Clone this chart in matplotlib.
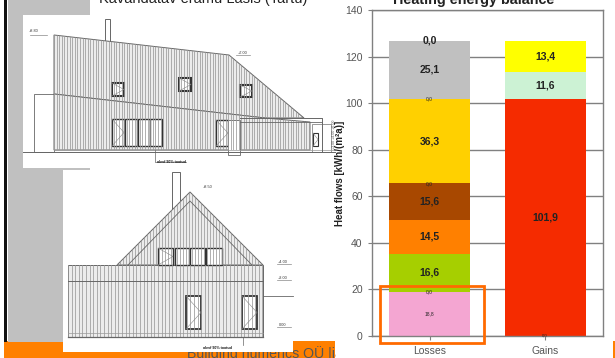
#!/usr/bin/env python3
# Heating energy balance chart on a slide with two house elevations
import numpy as np
import matplotlib
matplotlib.use('Agg')
import matplotlib.pyplot as plt
from matplotlib.patches import Rectangle, Polygon

plt.rcParams['font.family'] = ['Liberation Sans', 'DejaVu Sans']

W, H = 615, 358

############################## Data ##################################
categories = ['Losses', 'Gains']
loss_values = [18.8, 0.0, 16.6, 14.5, 15.6, 0.0, 36.3, 0.0, 25.1, 0.0]
loss_labels = ['18,8', '0,0', '16,6', '14,5', '15,6', '0,0', '36,3', '0,0', '25,1', '0,0']
loss_colors = ['#f4a6d2', '#f4a6d2', '#a6cf00', '#ff8000', '#a84800', '#a84800',
               '#ffd000', '#ffd000', '#c0c0c0', '#c0c0c0']
loss_sizes = [3.5, 3.5, 7.5, 7.5, 7.5, 3.5, 7.5, 3.5, 7.5, 7.5]
gain_values = [0.0, 101.9, 11.6, 13.4]
gain_labels = ['0,0', '101,9', '11,6', '13,4']
gain_colors = ['#f52b00', '#f52b00', '#ccf2d4', '#ffff00']
gain_sizes = [3, 7.5, 7.5, 7.5]
y_ticks = [0, 20, 40, 60, 80, 100, 120, 140]


def px_rect(x0, y0, x1, y1, **kw):
    kw.setdefault('facecolor', 'none')
    kw.setdefault('edgecolor', 'none')
    bg.add_patch(Rectangle((x0, y0), x1 - x0, y1 - y0, **kw))


def hatch(poly, step=2.6, color='#9a9a9a', lw=0.55):
    """Vertical cladding lines clipped to a polygon"""
    patch = Polygon(poly, closed=True, facecolor='#ececec', edgecolor='#666666', lw=0.7)
    bg.add_patch(patch)
    xs = [p[0] for p in poly]
    ys = [p[1] for p in poly]
    for x in np.arange(min(xs), max(xs), step):
        line, = bg.plot([x, x], [min(ys), max(ys)], color=color, lw=lw)
        line.set_clip_path(patch)


def window(x0, y0, x1, y1, lw=1.0, cross=True):
    px_rect(x0, y0, x1, y1, facecolor='white', edgecolor='#333333', lw=lw)
    if cross:
        bg.plot([x0, x1, x0], [y0, (y0 + y1) / 2, y1], color='#888888', lw=0.4)


fig = plt.figure(figsize=(W / 100, H / 100), dpi=100, facecolor='white')

########################### Slide background ###########################
bg = fig.add_axes([0, 0, 1, 1])
bg.set_xlim(0, W)
bg.set_ylim(H, 0)
bg.axis('off')

px_rect(8, 0, 90, 170, facecolor='#c0c0c0')
px_rect(8, 170, 63, 342, facecolor='#c0c0c0')
px_rect(4, 0, 7, 342, facecolor='#111111')
px_rect(4, 341, 335, H, facecolor='#ff8000', zorder=0.1)
px_rect(613, 341, W, H, facecolor='#ff8000')

# footer text sits under the pasted drawing, only its lower edge shows
bg.text(187, 353.5, 'Building numerics OÜ |ja', fontsize=10.2, color='#555555',
        ha='left', va='center', zorder=0.5)
px_rect(336, 341, 613, H, facecolor='white')

px_rect(23, 15, 90, 168, facecolor='white')
px_rect(63, 170, 293, 352, facecolor='white')
px_rect(63, 168, 90, 170, facecolor='#c0c0c0')

bg.text(99, 3.5, 'Kavandatav eramu Läsis (Tartu)', fontsize=10.5, color='#222222',
        ha='left', va='baseline')

########################### Side elevation ###########################
px_rect(105, 19, 110, 41, facecolor='white', edgecolor='#666666', lw=0.7)
px_rect(34, 94, 54, 152, facecolor='white', edgecolor='#666666', lw=0.6)
hatch([(54, 35), (229, 55), (304, 118), (265, 118), (54, 94)])
hatch([(54, 94), (265, 118), (310, 122), (310, 150), (54, 150)])
bg.plot([23, 335], [152, 152], color='#666666', lw=0.7)
bg.plot([54, 335], [150, 150], color='#999999', lw=0.5)
bg.plot([240, 322, 322], [118, 118, 152], color='#666666', lw=0.7)
bg.plot([240, 322], [122, 122], color='#666666', lw=0.6)
window(112, 83, 124, 96, lw=1.5)
window(179, 78, 191, 91, lw=1.5)
window(240, 85, 252, 97, lw=1.5)
window(112, 119, 124, 146)
window(125, 119, 137, 146, cross=False)
window(138, 119, 150, 146, cross=False)
window(150, 119, 162, 146, cross=False)
window(216, 120, 228, 146)
px_rect(228, 120, 240, 155, facecolor='white', edgecolor='#666666', lw=0.6)
px_rect(312, 124, 331, 152, facecolor='white', edgecolor='#888888', lw=0.6)
window(313, 133, 318, 146, lw=0.8)
bg.plot([30, 47], [35, 35], color='#888888', lw=0.5)
bg.plot([236, 250], [55, 55], color='#888888', lw=0.5)
bg.plot([155, 155, 186], [150, 162, 162], color='#666666', lw=0.5)
bg.text(34, 31.5, '+8.80', fontsize=2.8, color='#333333', ha='center', va='center')
bg.text(243, 52.5, '+7.00', fontsize=2.8, color='#333333', ha='center', va='center')
bg.text(171, 162, 'olevf 90% tootud', fontsize=2.6, color='#111111', fontweight='bold',
        ha='center', va='center')
bg.text(334, 134, '+3.00 +4.00 +6.00', fontsize=2.6, color='#555555', rotation=90,
        ha='center', va='center')

########################### Gable elevation ###########################
px_rect(172, 172, 180, 210, facecolor='white', edgecolor='#666666', lw=0.7)
hatch([(190, 192), (263, 265), (117, 265)], step=3.0)
bg.plot([128, 190, 252], [265, 201, 265], color='#666666', lw=0.6)
hatch([(68, 265), (263, 265), (263, 337), (68, 337)], step=3.6)
bg.plot([68, 263], [281, 281], color='#666666', lw=0.7)
bg.plot([68, 263], [337, 337], color='#666666', lw=0.9)
bg.plot([68, 263], [333, 333], color='#999999', lw=0.5)
window(158, 248, 173, 265)
window(175, 248, 189, 265, cross=False)
window(190, 248, 205, 265, cross=False)
window(206, 248, 222, 265, cross=False)
window(186, 296, 201, 329, lw=1.3)
window(242, 296, 257, 329, lw=1.3)
bg.plot([263, 293], [296, 296], color='#666666', lw=0.6)
bg.plot([243, 243], [337, 345], color='#666666', lw=0.5)
for y, s in [(262, '+4.00'), (278, '+3.00'), (325, '0.00')]:
    bg.plot([277, 291], [y + 2, y + 2], color='#888888', lw=0.5)
    bg.text(283, y, s, fontsize=2.8, color='#333333', ha='center', va='center')
bg.text(208, 187, '+8.50', fontsize=2.8, color='#333333', ha='center', va='center')
bg.text(217, 348, 'olevf 90% tootud', fontsize=2.6, color='#111111', fontweight='bold',
        ha='center', va='center', zorder=5)

########################### Chart ###########################
ax = fig.add_axes([371.7 / W, 1 - 336 / H, 231.3 / W, 326 / H], facecolor='white')
ax.set_xlim(-0.5, 1.5)
ax.set_ylim(0, 140)
ax.set_axisbelow(True)
ax.grid(axis='y', color='#808080', lw=1.0)
for side in ax.spines.values():
    side.set_color('#808080')
    side.set_linewidth(1.0)
ax.tick_params(axis='y', color='#808080', labelcolor='#555555', labelsize=7.5, length=3, pad=3.5)
ax.tick_params(axis='x', color='#808080', labelcolor='#555555', labelsize=7.5, length=3, pad=4)
ax.set_yticks(y_ticks)
ax.set_xticks([0, 1], categories)
ax.set_ylabel('Heat flows [kWh/(m²a)]', fontsize=7, fontweight='bold', color='#222222', labelpad=0)
ax.set_title('Heating energy balance', fontsize=10.4, fontweight='bold', color='#222222',
             x=0.442, pad=4)

bar_w = 0.70
for pos, values, labels, colors, sizes in [
        (0, loss_values, loss_labels, loss_colors, loss_sizes),
        (1, gain_values, gain_labels, gain_colors, gain_sizes)]:
    bottom = 0
    for v, lab, col, size in zip(values, labels, colors, sizes):
        ax.bar(pos, v, bar_w, bottom=bottom, color=col)
        ax.text(pos, bottom + v / 2, lab, fontsize=size, fontweight='bold' if size > 4 else 'normal',
                color='#222222', ha='center', va='center')
        bottom += v

# orange highlight round the lowest loss block
bg2 = fig.add_axes([0, 0, 1, 1], facecolor='none')
bg2.set_xlim(0, W)
bg2.set_ylim(H, 0)
bg2.axis('off')
bg2.add_patch(Rectangle((379.5, 286), 104, 57, facecolor='none', edgecolor='#ff6a00', lw=2))

fig.savefig('out.png', dpi=100)
